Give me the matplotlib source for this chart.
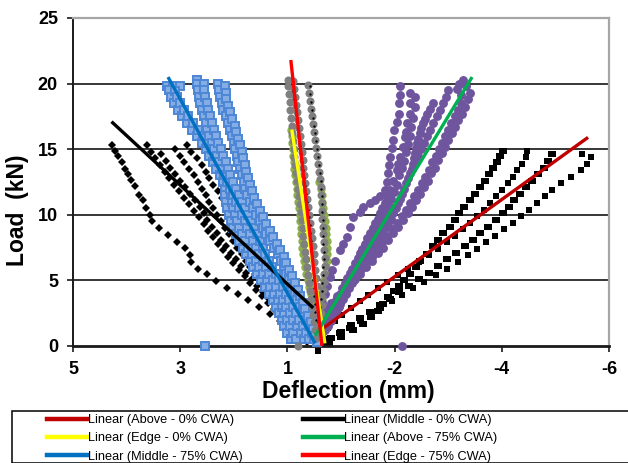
import matplotlib
matplotlib.use("Agg")
import matplotlib.pyplot as plt
from matplotlib.lines import Line2D
from matplotlib.patches import Rectangle
from matplotlib.path import Path

# ---------------- axis definition ----------------
X_TICKS = [5, 2.8, 0.6, -1.6, -3.8, -6]
X_TICK_LABELS = ["5", "3", "1", "-2", "-4", "-6"]
Y_TICKS = [0, 5, 10, 15, 20, 25]
X_LABEL = "Deflection (mm)"
Y_LABEL = "Load  (kN)"

# ---------------- data: (deflection mm, load kN) ----------------
# Above - 0% CWA (black squares)
ABOVE0_T1 = [(-3.82, 14.9), (-3.76, 14.5), (-3.70, 14.0), (-3.62, 13.6), (-3.54, 13.1), (-3.46, 12.6),
             (-3.36, 12.1), (-3.26, 11.6), (-3.15, 11.1), (-3.03, 10.6), (-2.92, 10.1), (-2.84, 9.6),
             (-2.74, 9.1), (-2.60, 8.6), (-2.50, 8.1), (-2.39, 7.6), (-2.26, 7.0), (-2.12, 6.5),
             (-2.03, 6.0), (-1.92, 5.5), (-1.80, 5.0), (-1.70, 4.6), (-1.58, 4.2), (-1.47, 3.7),
             (-1.36, 3.2), (-1.25, 2.7), (-1.12, 2.2), (-0.95, 1.7), (-0.75, 1.2), (-0.50, 0.7), (-0.25, 0.2)]
ABOVE0_T2 = [(-4.31, 14.9), (-4.30, 14.4), (-4.22, 13.9), (-4.12, 13.4), (-4.02, 12.9), (-3.92, 12.4),
             (-3.80, 11.9), (-3.68, 11.4), (-3.56, 10.9), (-3.44, 10.4), (-3.30, 9.9), (-3.15, 9.4),
             (-3.00, 8.9), (-2.84, 8.4), (-2.68, 7.9), (-2.50, 7.4), (-2.30, 6.9), (-2.10, 6.4),
             (-1.88, 5.9), (-1.66, 5.4), (-1.44, 4.9), (-1.26, 4.4), (-1.06, 3.9), (-0.88, 3.4),
             (-0.70, 2.9), (-0.52, 2.4), (-0.38, 1.9), (-0.24, 1.4), (-0.12, 0.9), (-0.02, 0.4)]
ABOVE0_T3 = [(-4.82, 14.6), (-4.75, 14.1), (-4.66, 13.6), (-4.55, 13.1), (-4.42, 12.6), (-4.30, 12.1),
             (-4.18, 11.6), (-4.06, 11.1), (-3.94, 10.6), (-3.82, 10.1), (-3.68, 9.6), (-3.52, 9.1),
             (-3.36, 8.6), (-3.20, 8.1), (-3.04, 7.6), (-2.86, 7.1), (-2.68, 6.6), (-2.50, 6.1),
             (-2.30, 5.6), (-2.10, 5.1), (-1.90, 4.6), (-1.70, 4.1), (-1.50, 3.6), (-1.30, 3.1),
             (-1.10, 2.6), (-0.90, 2.1), (-0.70, 1.6), (-0.50, 1.1), (-0.30, 0.6), (-0.12, 0.2)]
ABOVE0_T4 = [(-5.44, 14.6), (-5.64, 14.4), (-5.55, 13.9), (-5.42, 13.4), (-5.22, 12.9), (-5.02, 12.4),
             (-4.84, 11.9), (-4.68, 11.4), (-4.52, 10.9), (-4.36, 10.4), (-4.20, 9.9), (-4.02, 9.4),
             (-3.84, 8.9), (-3.66, 8.4), (-3.48, 7.9), (-3.30, 7.4), (-3.10, 6.9), (-2.90, 6.4),
             (-2.68, 5.9), (-2.44, 5.4), (-2.20, 4.9), (-1.98, 4.4), (-1.76, 3.9), (-1.54, 3.4),
             (-1.32, 2.9), (-1.10, 2.4), (-0.88, 1.9), (-0.66, 1.4), (-0.46, 1.0), (-0.24, 0.5), (-0.03, -0.4)]

# Middle - 0% CWA (black diamonds)
MID0_T1 = [(4.19, 15.3), (4.14, 14.9), (4.07, 14.5), (4.00, 14.0), (3.93, 13.5), (3.87, 13.1),
           (3.80, 12.65), (3.73, 12.2), (3.64, 11.5), (3.56, 11.1), (3.50, 10.5), (3.43, 10.0),
           (3.38, 9.5), (3.23, 9.0), (3.06, 8.45), (2.86, 7.95), (2.70, 7.45), (2.60, 6.9),
           (2.57, 6.4), (2.43, 5.9), (2.26, 5.45), (2.07, 4.95), (1.84, 4.45), (1.62, 3.95),
           (1.40, 3.5), (1.18, 2.95), (0.96, 2.45), (0.76, 1.9), (0.55, 1.2), (0.44, 0.7)]
MID0_T2 = [(3.48, 15.3), (3.40, 14.8), (3.32, 14.3), (3.22, 13.8), (3.12, 13.3), (3.02, 12.8),
           (2.92, 12.3), (2.82, 11.8), (2.72, 11.3), (2.62, 10.8), (2.52, 10.3), (2.42, 9.8),
           (2.32, 9.3), (2.22, 8.8), (2.12, 8.3), (2.02, 7.8), (1.92, 7.3), (1.82, 6.8),
           (1.72, 6.3), (1.60, 5.8), (1.48, 5.3), (1.36, 4.8), (1.24, 4.3), (1.12, 3.8),
           (1.00, 3.3), (0.88, 2.8), (0.76, 2.3), (0.62, 1.8), (0.48, 1.3), (0.34, 0.8), (0.20, 0.3)]
MID0_T3 = [(2.90, 15.0), (2.80, 14.5), (2.72, 14.0), (2.62, 13.5), (2.52, 13.0), (2.44, 12.5),
           (2.36, 12.0), (2.28, 11.5), (2.20, 11.0), (2.12, 10.5), (2.04, 10.0), (1.96, 9.5),
           (1.88, 9.0), (1.80, 8.5), (1.72, 8.0), (1.63, 7.5), (1.54, 7.0), (1.45, 6.5),
           (1.36, 6.0), (1.27, 5.5), (1.18, 5.0), (1.08, 4.5), (0.98, 4.0), (0.88, 3.5),
           (0.78, 3.0), (0.68, 2.5), (0.56, 2.0), (0.44, 1.5), (0.32, 1.0), (0.20, 0.5)]
MID0_T4 = [(2.67, 15.3), (2.58, 14.8), (2.45, 14.3), (2.36, 13.8), (2.28, 13.3), (2.20, 12.8),
           (2.12, 12.3), (2.03, 11.8), (1.95, 11.3), (1.87, 10.8), (1.80, 10.3), (1.72, 9.8),
           (1.66, 9.3), (1.58, 8.8), (1.50, 8.3), (1.42, 7.8), (1.34, 7.3), (1.25, 6.8),
           (1.16, 6.3), (1.06, 5.8), (0.96, 5.3), (0.86, 4.8), (0.76, 4.3), (0.66, 3.8),
           (0.56, 3.3), (0.46, 2.8), (0.36, 2.3), (0.28, 1.8), (0.20, 1.3), (0.12, 0.8), (0.05, 0.3)]
MID0_T5 = [(3.20, 14.6), (3.10, 14.1), (3.00, 13.6), (2.90, 13.1), (2.80, 12.6), (2.70, 12.1),
           (2.60, 11.6), (2.50, 11.1), (2.40, 10.6), (2.32, 10.1), (2.24, 9.6), (2.14, 9.1),
           (2.05, 8.6), (1.96, 8.1), (1.86, 7.6), (1.76, 7.1), (1.66, 6.6), (1.55, 6.1),
           (1.44, 5.6), (1.33, 5.1), (1.22, 4.6), (1.10, 4.1), (0.98, 3.6), (0.86, 3.1),
           (0.74, 2.6), (0.62, 2.1), (0.50, 1.6), (0.38, 1.1), (0.26, 0.6)]

# Edge - 0% CWA (olive markers)
EDGE0_T1 = [(0.52, 16.5), (0.51, 16.0), (0.50, 15.5), (0.49, 15.0), (0.48, 14.5), (0.47, 14.0),
            (0.46, 13.5), (0.44, 13.0), (0.42, 12.5), (0.41, 12.0), (0.40, 11.5), (0.38, 11.0),
            (0.37, 10.5), (0.35, 10.0), (0.34, 9.5), (0.33, 9.0), (0.32, 8.5), (0.31, 8.0),
            (0.30, 7.5), (0.28, 7.0), (0.26, 6.5), (0.24, 6.0), (0.21, 5.5), (0.18, 5.0),
            (0.15, 4.5), (0.12, 4.0), (0.09, 3.5), (0.06, 3.0), (0.03, 2.5), (0.01, 2.0)]
EDGE0_T2 = [(-0.05, 12.5), (-0.08, 12.0), (-0.10, 11.5), (-0.12, 11.0), (-0.14, 10.5), (-0.16, 10.0),
            (-0.18, 9.5), (-0.19, 9.0), (-0.20, 8.5), (-0.21, 8.0), (-0.22, 7.5), (-0.22, 7.0),
            (-0.21, 6.5), (-0.20, 6.0), (-0.18, 5.5), (-0.16, 5.0), (-0.14, 4.5), (-0.12, 4.0),
            (-0.10, 3.5), (-0.08, 3.0)]

# Above - 75% CWA (purple circles)
ABOVE75_T1 = [(-1.71, 19.8), (-1.71, 19.1), (-1.69, 18.5), (-1.69, 17.7), (-1.64, 17.1), (-1.59, 16.5),
              (-1.56, 15.7), (-1.54, 15.1), (-1.50, 14.4), (-1.49, 13.8), (-1.47, 13.2), (-1.45, 12.5),
              (-1.40, 11.9), (-1.30, 11.4), (-1.20, 11.1), (-1.10, 10.9), (-0.96, 10.6), (-0.88, 10.2),
              (-0.75, 9.8), (-0.68, 9.1), (-0.62, 8.3), (-0.55, 7.8), (-0.48, 7.3), (-0.38, 6.5),
              (-0.32, 5.8), (-0.27, 5.25), (-0.22, 4.6), (-0.17, 4.0), (-0.12, 3.3), (-0.07, 2.7),
              (-0.03, 2.0), (0.0, 1.45)]
ABOVE75_T2 = [(-1.92, 19.3), (-1.92, 18.5), (-1.92, 17.7), (-1.85, 17.0), (-1.83, 16.3), (-1.81, 15.9),
              (-1.77, 15.2), (-1.71, 14.4), (-1.68, 13.9), (-1.64, 13.4), (-1.57, 12.6), (-1.50, 11.9),
              (-1.45, 11.4), (-1.40, 10.9), (-1.35, 10.5), (-1.30, 10.1), (-1.25, 9.7), (-1.20, 9.4),
              (-1.15, 9.0), (-1.10, 8.6), (-1.04, 8.2), (-0.99, 7.8), (-0.94, 7.4), (-0.89, 7.1),
              (-0.84, 6.7), (-0.79, 6.3), (-0.73, 5.9), (-0.68, 5.6), (-0.63, 5.2), (-0.58, 4.8),
              (-0.53, 4.4), (-0.48, 4.0), (-0.43, 3.6), (-0.38, 3.2), (-0.32, 2.8), (-0.27, 2.5),
              (-0.22, 2.1), (-0.17, 1.7), (-0.12, 1.3), (-0.07, 1.0)]
ABOVE75_T2B = [(-2.02, 19.0), (-2.02, 18.2), (-1.98, 17.4), (-1.94, 16.7), (-1.92, 16.0), (-1.88, 15.4),
               (-1.83, 14.8), (-1.79, 14.1), (-1.75, 13.6), (-1.70, 13.0), (-1.64, 12.3), (-1.58, 11.7),
               (-1.53, 11.2), (-1.48, 10.7), (-1.43, 10.3), (-1.38, 9.9), (-1.33, 9.5), (-1.28, 9.2),
               (-1.23, 8.8), (-1.17, 8.4), (-1.12, 8.0), (-1.07, 7.6), (-1.02, 7.2), (-0.97, 6.9),
               (-0.92, 6.5), (-0.86, 6.1), (-0.81, 5.7), (-0.76, 5.4), (-0.70, 5.0), (-0.65, 4.6),
               (-0.60, 4.2), (-0.55, 3.8), (-0.50, 3.4), (-0.45, 3.0), (-0.39, 2.6), (-0.34, 2.3),
               (-0.29, 1.9), (-0.24, 1.5), (-0.18, 1.2)]
ABOVE75_T3 = [(-2.39, 18.5), (-2.32, 18.1), (-2.26, 17.7), (-2.22, 17.3), (-2.18, 17.0), (-2.15, 16.6),
              (-2.12, 16.2), (-2.09, 15.8), (-2.06, 15.5), (-2.04, 15.1), (-2.02, 14.7), (-2.00, 14.3),
              (-1.98, 13.9), (-1.95, 13.5), (-1.92, 13.2), (-1.87, 12.8), (-1.83, 12.4), (-1.79, 12.0),
              (-1.75, 11.6), (-1.71, 11.2), (-1.67, 10.9), (-1.62, 10.5), (-1.57, 10.1), (-1.52, 9.7),
              (-1.47, 9.4), (-1.40, 9.0), (-1.34, 8.6), (-1.28, 8.2), (-1.22, 7.8), (-1.16, 7.4),
              (-1.10, 7.1), (-1.03, 6.7), (-0.97, 6.3), (-0.91, 5.9), (-0.85, 5.5), (-0.79, 5.1),
              (-0.73, 4.8), (-0.66, 4.4), (-0.60, 4.0), (-0.54, 3.6), (-0.48, 3.2), (-0.42, 2.8),
              (-0.36, 2.5), (-0.30, 2.1), (-0.23, 1.7), (-0.17, 1.3), (-0.11, 1.0)]
ABOVE75_T4 = [(-3.01, 20.3), (-3.06, 19.8), (-3.15, 19.3), (-3.10, 18.8), (-3.05, 18.2), (-2.98, 17.7),
              (-2.90, 17.2), (-2.84, 16.7), (-2.78, 16.2), (-2.70, 15.7), (-2.64, 15.2), (-2.57, 14.7),
              (-2.49, 14.2), (-2.43, 13.6), (-2.35, 13.2), (-2.29, 12.6), (-2.20, 12.1), (-2.12, 11.6),
              (-2.04, 11.1), (-1.96, 10.6), (-1.88, 10.1), (-1.77, 9.6), (-1.67, 9.1), (-1.57, 8.6),
              (-1.46, 8.1), (-1.36, 7.5), (-1.26, 7.1), (-1.14, 6.5), (-1.01, 6.0), (-0.89, 5.5),
              (-0.77, 5.0), (-0.64, 4.5), (-0.52, 4.0), (-0.40, 3.5), (-0.27, 3.0), (-0.17, 2.5),
              (-0.07, 2.0), (0.0, 1.4)]
ABOVE75_T4B = [(-2.88, 19.6), (-2.96, 19.1), (-2.96, 18.5), (-2.90, 18.0), (-2.83, 17.5), (-2.76, 17.0),
               (-2.70, 16.5), (-2.64, 16.0), (-2.57, 15.5), (-2.51, 15.0), (-2.44, 14.5), (-2.37, 14.0),
               (-2.30, 13.4), (-2.23, 12.9), (-2.16, 12.4), (-2.08, 11.9), (-2.00, 11.4), (-1.92, 10.9),
               (-1.84, 10.4), (-1.75, 9.9), (-1.65, 9.4), (-1.55, 8.9), (-1.45, 8.4), (-1.34, 7.9),
               (-1.24, 7.3), (-1.14, 6.8), (-1.02, 6.3), (-0.90, 5.8), (-0.78, 5.3), (-0.66, 4.8),
               (-0.54, 4.3), (-0.42, 3.8), (-0.30, 3.3), (-0.18, 2.8), (-0.08, 2.3)]
ABOVE75_T5 = [(-2.92, 20.0), (-2.70, 19.5), (-2.66, 19.0), (-2.60, 18.5), (-2.53, 18.0), (-2.46, 17.5),
              (-2.38, 17.0), (-2.32, 16.5), (-2.26, 16.0), (-2.20, 15.5), (-2.14, 15.0), (-2.08, 14.5),
              (-2.02, 14.0), (-1.75, 0.0)]

# Middle - 75% CWA (blue squares)
MID75_T1 = [(3.08, 19.8), (2.94, 19.8), (2.80, 19.8), (3.02, 19.5), (2.98, 19.0), (2.92, 18.5),
            (2.85, 18.0), (2.76, 17.5), (2.67, 17.0), (2.55, 16.5), (2.45, 16.0), (2.36, 15.5),
            (2.27, 15.0), (2.20, 14.5), (2.13, 14.0), (2.06, 13.5), (1.98, 13.0), (1.92, 12.5),
            (1.88, 12.0), (1.88, 11.5), (1.86, 11.0), (1.84, 10.5), (1.80, 10.0), (1.76, 9.5),
            (1.72, 9.0), (1.66, 8.5), (1.60, 8.0), (1.52, 7.5), (1.44, 7.0), (1.36, 6.5),
            (1.30, 6.0), (1.22, 5.5), (1.14, 5.0), (1.06, 4.5), (0.98, 4.0), (0.90, 3.5),
            (0.84, 3.0), (0.78, 2.5), (0.72, 2.0), (0.66, 1.5), (0.60, 1.0), (0.52, 0.5), (2.29, 0.0)]
MID75_T1B = [(2.90, 19.4), (2.86, 19.0), (2.80, 18.5), (2.72, 18.0), (2.63, 17.5), (2.54, 17.0),
             (2.43, 16.5), (2.33, 16.0), (2.24, 15.5), (2.15, 15.0), (2.08, 14.5), (2.01, 14.0),
             (1.94, 13.5), (1.86, 13.0), (1.80, 12.5), (1.76, 12.0), (1.75, 11.5), (1.73, 11.0),
             (1.71, 10.5), (1.67, 10.0), (1.63, 9.5), (1.59, 9.0), (1.53, 8.5), (1.47, 8.0),
             (1.40, 7.5), (1.32, 7.0), (1.25, 6.5), (1.18, 6.0), (1.10, 5.5), (1.02, 5.0),
             (0.95, 4.5), (0.87, 4.0), (0.79, 3.5), (0.72, 3.0), (0.66, 2.5), (0.60, 2.0),
             (0.54, 1.5), (0.48, 1.0), (0.42, 0.5)]
MID75_T2 = [(2.46, 20.3), (2.45, 20.0), (2.44, 19.5), (2.42, 19.0), (2.39, 18.5), (2.35, 18.0),
            (2.32, 17.5), (2.28, 17.0), (2.24, 16.5), (2.20, 16.0), (2.15, 15.5), (2.10, 15.0),
            (2.05, 14.5), (2.00, 14.0), (1.95, 13.5), (1.90, 13.0), (1.84, 12.5), (1.78, 12.0),
            (1.72, 11.5), (1.66, 11.0), (1.60, 10.5), (1.54, 10.0), (1.48, 9.5), (1.42, 9.0),
            (1.36, 8.5), (1.30, 8.0), (1.24, 7.5), (1.18, 7.0), (1.11, 6.5), (1.04, 6.0),
            (0.97, 5.5), (0.90, 5.0), (0.83, 4.5), (0.76, 4.0), (0.69, 3.5), (0.62, 3.0),
            (0.55, 2.5), (0.48, 2.0), (0.40, 1.5), (0.32, 1.0), (0.25, 0.5)]
MID75_T2B = [(2.32, 20.0), (2.31, 19.5), (2.29, 19.0), (2.26, 18.5), (2.22, 18.0), (2.19, 17.5),
             (2.15, 17.0), (2.11, 16.5), (2.07, 16.0), (2.02, 15.5), (1.97, 15.0), (1.92, 14.5),
             (1.87, 14.0), (1.82, 13.5), (1.77, 13.0), (1.71, 12.5), (1.65, 12.0), (1.59, 11.5),
             (1.53, 11.0), (1.47, 10.5), (1.41, 10.0), (1.35, 9.5), (1.29, 9.0), (1.23, 8.5),
             (1.17, 8.0), (1.11, 7.5), (1.05, 7.0), (0.98, 6.5), (0.91, 6.0), (0.84, 5.5),
             (0.77, 5.0), (0.70, 4.5), (0.63, 4.0), (0.56, 3.5), (0.49, 3.0), (0.43, 2.5),
             (0.36, 2.0), (0.29, 1.5), (0.22, 1.0), (0.15, 0.5)]
MID75_T3 = [(2.02, 20.0), (2.00, 19.5), (1.98, 19.0), (1.95, 18.5), (1.92, 18.0), (1.87, 17.5),
            (1.81, 17.0), (1.78, 16.5), (1.74, 16.0), (1.70, 15.5), (1.67, 15.0), (1.64, 14.5),
            (1.61, 14.0), (1.58, 13.5), (1.54, 13.0), (1.50, 12.5), (1.47, 12.0), (1.42, 11.5),
            (1.36, 11.0), (1.30, 10.5), (1.24, 10.0), (1.17, 9.5), (1.10, 9.0), (1.03, 8.5),
            (0.96, 8.0), (0.88, 7.5), (0.80, 7.0), (0.74, 6.5), (0.68, 6.0), (0.62, 5.5),
            (0.56, 5.0), (0.50, 4.5), (0.45, 4.0), (0.40, 3.5), (0.34, 3.0), (0.28, 2.5),
            (0.22, 2.0), (0.16, 1.5), (0.10, 1.0), (0.05, 0.5)]
MID75_T3B = [(1.89, 19.8), (1.87, 19.3), (1.85, 18.8), (1.82, 18.3), (1.78, 17.8), (1.73, 17.3),
             (1.68, 16.8), (1.65, 16.3), (1.61, 15.8), (1.57, 15.3), (1.54, 14.8), (1.51, 14.3),
             (1.48, 13.8), (1.45, 13.3), (1.41, 12.8), (1.37, 12.3), (1.33, 11.8), (1.28, 11.3),
             (1.22, 10.8), (1.16, 10.3), (1.10, 9.8), (1.03, 9.3), (0.96, 8.8), (0.89, 8.3),
             (0.82, 7.8), (0.75, 7.3), (0.68, 6.8), (0.62, 6.3), (0.56, 5.8), (0.50, 5.3),
             (0.45, 4.8), (0.39, 4.3), (0.34, 3.8), (0.28, 3.3), (0.23, 2.8), (0.17, 2.3),
             (0.12, 1.8), (0.07, 1.3), (0.03, 0.8), (0.00, 0.3)]

# Edge - 75% CWA (grey circles)
EDGE75_T1 = [(0.59, 20.3), (0.58, 19.8), (0.56, 19.2), (0.55, 18.6), (0.54, 18.0), (0.52, 17.4),
             (0.51, 16.8), (0.50, 16.2), (0.49, 15.6), (0.47, 15.0), (0.46, 14.4), (0.44, 13.8),
             (0.42, 13.2), (0.40, 12.6), (0.38, 12.0), (0.36, 11.4), (0.34, 10.8), (0.32, 10.2),
             (0.30, 9.6), (0.29, 9.0), (0.27, 8.4), (0.25, 7.8), (0.23, 7.2), (0.21, 6.6),
             (0.19, 6.0), (0.17, 5.4), (0.15, 4.8), (0.13, 4.2), (0.11, 3.6), (0.09, 3.0),
             (0.07, 2.4), (0.05, 1.8), (0.03, 1.2), (0.02, 0.6), (0.38, 0.0)]
EDGE75_T2 = [(0.48, 20.2), (0.47, 19.6), (0.45, 19.0), (0.43, 18.4), (0.41, 17.8), (0.39, 17.2),
             (0.37, 16.6), (0.35, 16.0), (0.33, 15.4), (0.31, 14.8), (0.29, 14.2), (0.27, 13.6),
             (0.25, 13.0), (0.23, 12.4), (0.21, 11.8), (0.19, 11.2), (0.17, 10.6), (0.15, 10.0),
             (0.13, 9.4), (0.12, 8.8), (0.10, 8.2), (0.08, 7.6), (0.06, 7.0), (0.05, 6.4),
             (0.03, 5.8), (0.02, 5.2), (0.00, 4.6), (-0.01, 4.0), (-0.02, 3.4), (-0.03, 2.8),
             (-0.04, 2.2), (-0.05, 1.6), (-0.06, 1.0)]
EDGE75_T3 = [(0.17, 19.9), (0.16, 19.3), (0.14, 18.7), (0.12, 18.1), (0.10, 17.5), (0.08, 16.9),
             (0.06, 16.3), (0.04, 15.7), (0.02, 15.1), (0.00, 14.5), (-0.02, 13.9), (-0.04, 13.3),
             (-0.06, 12.7), (-0.08, 12.1), (-0.09, 11.5), (-0.10, 10.9), (-0.11, 10.3), (-0.12, 9.7),
             (-0.13, 9.1), (-0.14, 8.5), (-0.15, 7.9), (-0.16, 7.3), (-0.17, 6.7), (-0.17, 6.1),
             (-0.16, 5.5), (-0.15, 4.9), (-0.14, 4.3), (-0.12, 3.7), (-0.10, 3.1), (-0.08, 2.5),
             (-0.06, 1.9), (-0.04, 1.3)]
# small black dots running through the grey cloud
EDGE_DOTS_T1 = [(0.14, 19.8), (0.13, 19.2), (0.11, 18.6), (0.09, 18.0), (0.07, 17.4), (0.05, 16.8),
                (0.03, 16.2), (0.01, 15.6), (-0.01, 15.0), (-0.03, 14.4), (-0.05, 13.8), (-0.07, 13.2),
                (-0.08, 12.6), (-0.09, 12.0), (-0.10, 11.4), (-0.11, 10.8), (-0.12, 10.2), (-0.13, 9.6),
                (-0.13, 9.0), (-0.14, 8.4), (-0.14, 7.8), (-0.15, 7.2), (-0.15, 6.6), (-0.14, 6.0),
                (-0.13, 5.4), (-0.12, 4.8), (-0.10, 4.2), (-0.08, 3.6), (-0.06, 3.0), (-0.04, 2.4),
                (-0.02, 1.8)]
EDGE_DOTS_T2 = [(0.50, 20.0), (0.48, 19.4), (0.46, 18.8), (0.44, 18.2), (0.42, 17.6), (0.40, 17.0),
                (0.38, 16.4), (0.36, 15.8), (0.34, 15.2), (0.32, 14.6), (0.30, 14.0), (0.28, 13.4),
                (0.26, 12.8), (0.24, 12.2), (0.22, 11.6), (0.20, 11.0), (0.18, 10.4), (0.16, 9.8),
                (0.14, 9.2), (0.13, 8.6), (0.12, 8.0), (0.11, 7.4), (0.10, 6.8), (0.09, 6.2),
                (0.08, 5.6), (0.07, 5.0), (0.06, 4.4), (0.05, 3.8), (0.04, 3.2), (0.03, 2.6),
                (0.02, 2.0)]

# linear trend lines: (deflection, load) end points
TREND_ABOVE0 = [(-0.13, 1.35), (-5.57, 15.9)]
TREND_MID0 = [(4.21, 17.1), (0.07, 2.9)]
TREND_EDGE0 = [(0.51, 16.5), (-0.17, 0.2)]
TREND_ABOVE75 = [(0.03, 0.8), (-3.19, 20.5)]
TREND_MID75 = [(3.05, 20.5), (0.03, 0.2)]
TREND_EDGE75 = [(0.53, 21.8), (-0.11, 0.0)]

LEGEND_LABELS = ["Linear (Above - 0% CWA)", "Linear (Middle - 0% CWA)",
                 "Linear (Edge - 0% CWA)", "Linear (Above - 75% CWA)",
                 "Linear (Middle - 75% CWA)", "Linear (Edge - 75% CWA)"]
TREND_COLORS = ["#C00000", "#000000", "#FFFF00", "#00B050", "#0070C0", "#FF0000"]


def xs(pts):
    return [p[0] for p in pts]


def ys(pts):
    return [p[1] for p in pts]


W, H = 628, 463
fig = plt.figure(figsize=(W / 100, H / 100), dpi=100)
ax = fig.add_axes([73 / W, 1 - 346 / H, (609 - 73) / W, (346 - 18) / H])

ax.set_xlim(5, -6)
ax.set_ylim(0, 25)

for g in [5, 10, 15, 20]:
    ax.axhline(g, color="#262626", lw=1.3, zorder=0)

# wide rectangle marker (black squares come in side-by-side pairs)
WIDE_SQ = Path([(-0.8, -0.5), (0.8, -0.5), (0.8, 0.5), (-0.8, 0.5), (-0.8, -0.5)],
               [Path.MOVETO, Path.LINETO, Path.LINETO, Path.LINETO, Path.CLOSEPOLY])


def scat(pts, **kw):
    ax.plot(xs(pts), ys(pts), linestyle="none", clip_on=False, **kw)


for tr in [MID0_T1, MID0_T2, MID0_T3, MID0_T4, MID0_T5]:
    scat(tr, marker="D", ms=3.6, mfc="black", mec="black", mew=0, zorder=2)
for i, tr in enumerate([ABOVE0_T1, ABOVE0_T2, ABOVE0_T3, ABOVE0_T4]):
    scat(tr, marker=WIDE_SQ if i % 2 == 0 else "s", ms=6.4 if i % 2 == 0 else 4.0,
         mfc="black", mec="black", mew=0, zorder=2)
for tr in [EDGE0_T1, EDGE0_T2]:
    scat(tr, marker="o", ms=6.0, mfc="#8FAF4E", mec="#8FAF4E", mew=0, zorder=2)
for tr in [ABOVE75_T1, ABOVE75_T2, ABOVE75_T2B, ABOVE75_T3, ABOVE75_T4, ABOVE75_T4B, ABOVE75_T5]:
    scat(tr, marker="o", ms=6.4, mfc="#6E559E", mec="#6E559E", mew=0, zorder=3)
for tr in [MID75_T1, MID75_T1B, MID75_T2, MID75_T2B, MID75_T3, MID75_T3B]:
    scat(tr, marker="s", ms=5.6, mfc="#84ADE6", mec="#4D86D5", mew=1.4, zorder=3)
for tr in [EDGE75_T1, EDGE75_T2, EDGE75_T3]:
    scat(tr, marker="o", ms=5.8, mfc="#7F7F7F", mec="#7F7F7F", mew=0, zorder=3)
for tr in [EDGE_DOTS_T1, EDGE_DOTS_T2]:
    scat(tr, marker="o", ms=1.7, mfc="black", mec="black", mew=0, zorder=3.5)

trends = [TREND_ABOVE0, TREND_MID0, TREND_EDGE0, TREND_ABOVE75, TREND_MID75, TREND_EDGE75]
handles = []
for tr, c in zip(trends, TREND_COLORS):
    ax.plot(xs(tr), ys(tr), color=c, lw=2.4, solid_capstyle="butt", zorder=4)
    handles.append(Line2D([0], [0], color=c, lw=3.2))

for s in ["top", "right"]:
    ax.spines[s].set_color("#A6A6A6")
    ax.spines[s].set_linewidth(1.6)
ax.spines["left"].set_color("#1a1a1a")
ax.spines["left"].set_linewidth(1.4)
ax.spines["bottom"].set_color("#1a1a1a")
ax.spines["bottom"].set_linewidth(2.0)

ax.set_xticks(X_TICKS)
ax.set_xticklabels(X_TICK_LABELS)
ax.set_yticks(Y_TICKS)
ax.set_yticklabels([str(v) for v in Y_TICKS])
ax.tick_params(axis="both", direction="out", length=4.3, width=1.2, color="#1a1a1a",
               labelsize=13, pad=6.5)
for lab in ax.get_xticklabels() + ax.get_yticklabels():
    lab.set_fontweight("bold")
    lab.set_fontfamily("Liberation Sans")

ax.set_xlabel(X_LABEL, fontsize=16.5, fontweight="bold", family="Liberation Sans")
ax.xaxis.set_label_coords((348 - 73) / 536, (346 - 380) / 328)
ax.set_ylabel(Y_LABEL, fontsize=16.5, fontweight="bold", family="Liberation Sans")
ax.yaxis.set_label_coords((29 - 73) / 536, (346 - 210) / 328)

# legend box (runs off the right edge in the reference)
fig.patches.append(Rectangle((11.5 / W, 1 - 462.5 / H), (660 - 11.5) / W, 52 / H,
                             transform=fig.transFigure, fill=False, edgecolor="black",
                             lw=1.1, clip_on=False))
leg_font = {"family": "Liberation Sans", "size": 9.2}
for cols, x0 in [([0, 2, 4], 47), ([1, 3, 5], 303)]:
    fig.legend([handles[i] for i in cols], [LEGEND_LABELS[i] for i in cols],
               loc="upper left", bbox_to_anchor=(x0 / W, 1 - 414 / H),
               frameon=False, borderpad=0, borderaxespad=0, handlelength=3.1,
               handletextpad=0.12, labelspacing=0.5, prop=leg_font)

fig.savefig("out.png", dpi=100)
